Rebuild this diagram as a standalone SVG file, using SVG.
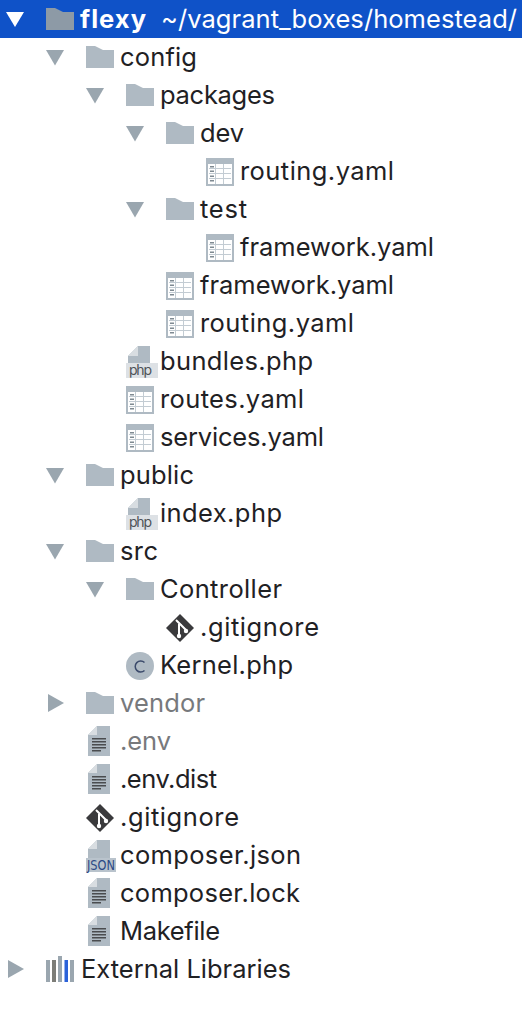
<svg xmlns="http://www.w3.org/2000/svg" width="522" height="1024" viewBox="0 0 522 1024">
<style>
text{font-family:Inter,"Liberation Sans",sans-serif;font-size:25.5px;fill:#1f2124}
.dim{fill:#77797c}
.w{fill:#fff}
.b{font-weight:700}
.ic{fill:#afbac3}
.ar{fill:#9aa6af}
.dk{fill:#3a3a3c}
.tiny{font-size:14px;fill:#4e5358}
</style>
<defs>
<path id="down" d="M0 0H18L9 15.500Z" class="ar"/>
<path id="right" d="M0 0L16 9L0 18Z" class="ar"/>
<path id="folder" d="M0 0H9L17 4H28V22H0Z" class="ic"/>
<g id="yaml"><path class="ic" fill-rule="evenodd" d="M0 0H28V28H0ZM2 6V26H26V6Z"/><path fill="#c3ccd3" d="M3 10H25V11H3ZM3 15H25V16H3ZM3 20H25V21H3ZM9 6H10V26H9ZM17 6H18V26H17Z"/><path fill="#7f8a92" d="M4 8H8V9.500H4ZM4 12.500H8V14H4ZM4 17.500H8V19H4ZM4 22H8V23.500H4Z"/></g>
<g id="php"><path class="ic" d="M2 10L12 0H24V17H2Z"/><path fill="#d8dde1" d="M2 10H12V0Z"/><rect x="0" y="17" width="32" height="15" fill="#dde1e5"/><text class="tiny" x="3" y="29" textLength="23">php</text></g>
<g id="txt"><path class="ic" d="M0 9L9 0H22V30H0Z"/><path fill="#d8dde1" d="M0 9H9V0Z"/><path fill="#4a4c4f" d="M4 12H18V13.500H4ZM4 15H18V16.500H4ZM4 18H18V19.500H4ZM4 21H18V22.500H4ZM4 24H13V25.500H4Z"/></g>
<g id="git"><path class="dk" d="M14 0L28 14L14 28L0 14Z"/><path fill="none" stroke="#fff" stroke-width="2" d="M10 6L20 16M13 10V21M15 11L20 16"/><circle cx="13" cy="22" r="2.200" fill="#fff"/><circle cx="20" cy="17" r="2.200" fill="#fff"/></g>
</defs>
<rect id="selection" x="0" y="0" width="522" height="38" fill="#0f52c8"/>
<g id="connectors"/>
<g id="root"><path d="M6 12H24L15 27Z" fill="#fff"/><path d="M46 8H55L63 12H74V30H46Z" fill="#8d9aa6"/><text class="w b" x="80" y="28" textLength="66">flexy</text><text class="w" x="161" y="28" textLength="356">~/vagrant_boxes/homestead/</text></g>
<g id="config"><use href="#down" x="46" y="50"/><use href="#folder" x="86" y="46"/><text x="120" y="66" textLength="77">config</text></g>
<g id="packages"><use href="#down" x="86" y="88"/><use href="#folder" x="126" y="84"/><text x="160" y="104" textLength="115">packages</text></g>
<g id="dev"><use href="#down" x="126" y="126"/><use href="#folder" x="166" y="122"/><text x="200" y="142" textLength="44">dev</text></g>
<g id="dev-routing"><use href="#yaml" x="206" y="158"/><text x="240" y="180" textLength="154">routing.yaml</text></g>
<g id="test"><use href="#down" x="126" y="202"/><use href="#folder" x="166" y="198"/><text x="200" y="218" textLength="47">test</text></g>
<g id="test-framework"><use href="#yaml" x="206" y="234"/><text x="240" y="256" textLength="194">framework.yaml</text></g>
<g id="framework"><use href="#yaml" x="166" y="272"/><text x="200" y="294" textLength="194">framework.yaml</text></g>
<g id="routing"><use href="#yaml" x="166" y="310"/><text x="200" y="332" textLength="154">routing.yaml</text></g>
<g id="bundles"><use href="#php" x="126" y="346"/><text x="160" y="370" textLength="153">bundles.php</text></g>
<g id="routes"><use href="#yaml" x="126" y="386"/><text x="160" y="408" textLength="144">routes.yaml</text></g>
<g id="services"><use href="#yaml" x="126" y="424"/><text x="160" y="446" textLength="164">services.yaml</text></g>
<g id="public"><use href="#down" x="46" y="468"/><use href="#folder" x="86" y="464"/><text x="120" y="484" textLength="74">public</text></g>
<g id="index"><use href="#php" x="126" y="498"/><text x="160" y="522" textLength="122">index.php</text></g>
<g id="src"><use href="#down" x="46" y="544"/><use href="#folder" x="86" y="540"/><text x="120" y="560" textLength="38">src</text></g>
<g id="controller"><use href="#down" x="86" y="582"/><use href="#folder" x="126" y="578"/><text x="160" y="598" textLength="122">Controller</text></g>
<g id="controller-gitignore"><use href="#git" x="166" y="614"/><text x="200" y="636" textLength="119">.gitignore</text></g>
<g id="kernel"><circle cx="140" cy="666" r="14" class="ic"/><path d="M144.500 662.500A5.500 5.500 0 1 0 144.500 670.500" fill="none" stroke="#3b4a6b" stroke-width="1.500"/><text x="160" y="674" textLength="133">Kernel.php</text></g>
<g id="vendor"><use href="#right" x="48" y="694"/><use href="#folder" x="86" y="692"/><text class="dim" x="120" y="712" textLength="85">vendor</text></g>
<g id="env"><use href="#txt" x="88" y="726"/><text class="dim" x="120" y="750" textLength="51">.env</text></g>
<g id="env-dist"><use href="#txt" x="88" y="764"/><text x="120" y="788" textLength="97">.env.dist</text></g>
<g id="gitignore"><use href="#git" x="86" y="804"/><text x="120" y="826" textLength="119">.gitignore</text></g>
<g id="composer-json"><path class="ic" d="M88 849L97 840H110V860H88Z"/><path fill="#d8dde1" d="M88 849H97V840Z"/><rect x="86" y="858" width="30" height="14" fill="#b9c3cc"/><text x="87" y="870" textLength="28" lengthAdjust="spacingAndGlyphs" style="font-size:14px;font-family:'DejaVu Sans',sans-serif;fill:#2c4a86">JSON</text><text x="120" y="864" textLength="181">composer.json</text></g>
<g id="composer-lock"><use href="#txt" x="88" y="878"/><text x="120" y="902" textLength="180">composer.lock</text></g>
<g id="makefile"><use href="#txt" x="88" y="916"/><text x="120" y="940" textLength="100">Makefile</text></g>
<g id="external"><use href="#right" x="8" y="960"/><rect x="46" y="960" width="4" height="22" fill="#9aa6af"/><rect x="52" y="960" width="4" height="22" fill="#7d7d78"/><rect x="58" y="956" width="4" height="26" fill="#9aa6af"/><rect x="64.500" y="960" width="3.500" height="22" fill="#2b62d9"/><rect x="70" y="960" width="4" height="22" fill="#9aa6af"/><text x="81" y="978" textLength="210">External Libraries</text></g>
</svg>
